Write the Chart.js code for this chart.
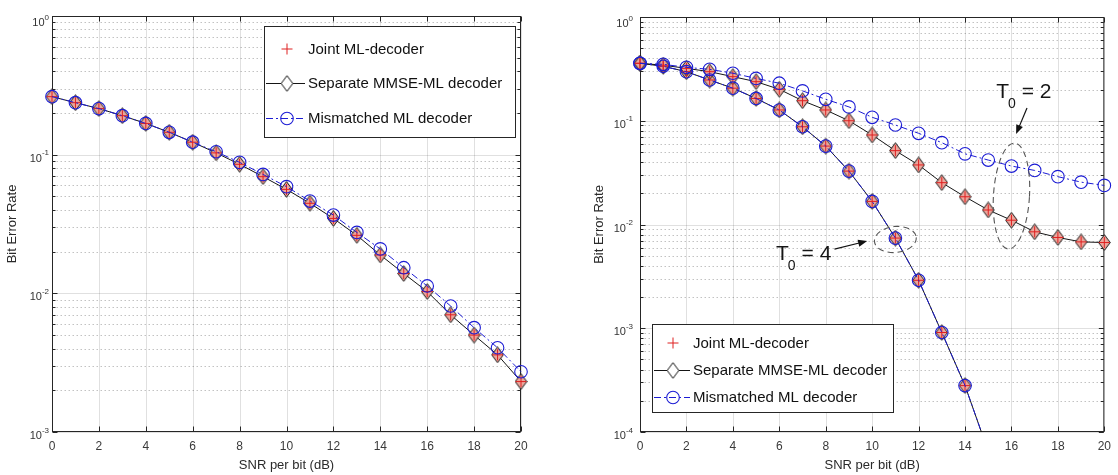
<!DOCTYPE html>
<html>
<head>
<meta charset="utf-8">
<script src="https://cdn.jsdelivr.net/npm/chart.js@4.4.1/dist/chart.umd.min.js"></script>
<style>
  html, body { margin: 0; padding: 0; background: #ffffff; }
  #wrap { position: relative; width: 1118px; height: 475px; overflow: hidden; background: #ffffff; }
  #c1 { position: absolute; left: 0; top: 0; }
  #c2 { position: absolute; left: 575px; top: 0; }
</style>
</head>
<body>
<div id="wrap">
  <canvas id="c1" width="575" height="475" style="width:575px;height:475px"></canvas>
  <canvas id="c2" width="543" height="475" style="width:543px;height:475px"></canvas>
</div>
<script>
// ---------------- data ----------------
const snrDb = [0,1,2,3,4,5,6,7,8,9,10,11,12,13,14,15,16,17,18,19,20];
const snrDbT4 = [0,1,2,3,4,5,6,7,8,9,10,11,12,13,14,15];
const xTickValues = [0,2,4,6,8,10,12,14,16,18,20];
const leftYExponents = [0,-1,-2,-3];
const rightYExponents = [0,-1,-2,-3,-4];
const seriesNames = ['Joint ML-decoder','Separate MMSE-ML decoder','Mismatched ML decoder'];
const xAxisTitle = 'SNR per bit (dB)';
const yAxisTitle = 'Bit Error Rate';

// left panel
const leftJoint      = [0.262,0.237,0.215,0.191,0.168,0.145,0.123,0.103,0.0852,0.0694,0.0562,0.0446,0.0347,0.0262,0.0189,0.0139,0.0103,0.0070,0.0050,0.0036,0.00231];
const leftSeparate   = [0.262,0.237,0.215,0.191,0.168,0.145,0.123,0.103,0.0852,0.0694,0.0562,0.0446,0.0347,0.0262,0.0189,0.0139,0.0103,0.0070,0.0050,0.0036,0.00231];
const leftMismatched = [0.262,0.237,0.215,0.191,0.168,0.145,0.123,0.105,0.0880,0.0720,0.0588,0.0463,0.0367,0.0275,0.0209,0.0153,0.0113,0.0081,0.00565,0.00405,0.00272];

// right panel, T0 = 4
const rightJointT4      = [0.358,0.335,0.297,0.247,0.206,0.164,0.127,0.0875,0.057,0.0327,0.0167,0.0074,0.0029,0.00091,0.00028,0.000065];
const rightSeparateT4   = [0.358,0.335,0.297,0.247,0.206,0.164,0.127,0.0875,0.057,0.0327,0.0167,0.0074,0.0029,0.00091,0.00028,0.000065];
const rightMismatchedT4 = [0.358,0.335,0.297,0.247,0.206,0.164,0.127,0.0875,0.057,0.0327,0.0167,0.0074,0.0029,0.00091,0.00028,0.000065];
// right panel, T0 = 2
const rightJointT2      = [0.358,0.343,0.320,0.297,0.266,0.238,0.201,0.156,0.127,0.100,0.0729,0.0515,0.0375,0.0253,0.0185,0.0138,0.0110,0.0085,0.0075,0.0068,0.0067];
const rightSeparateT2   = [0.358,0.343,0.320,0.297,0.266,0.238,0.201,0.156,0.127,0.100,0.0729,0.0515,0.0375,0.0253,0.0185,0.0138,0.0110,0.0085,0.0075,0.0068,0.0067];
const rightMismatchedT2 = [0.358,0.350,0.327,0.313,0.287,0.256,0.230,0.194,0.161,0.136,0.108,0.091,0.0757,0.0615,0.048,0.0418,0.0366,0.0332,0.0289,0.0256,0.0238];

// annotation texts
const annotT2 = { main: 'T', sub: '0', rest: '= 2' };
const annotT4 = { main: 'T', sub: '0', rest: '= 4' };

// ---------------- styling ----------------
const FONT = '"Liberation Sans", Arial, Helvetica, sans-serif';
const RED = 'rgb(222,32,32)';
const BLUE = 'rgb(28,28,212)';
const BLACK = '#151515';
const DIAMOND_FILL = 'rgb(236,166,156)';
const DASHDOT = [7,3,2,3];

function makeDiamond(fill) {
  const c = document.createElement('canvas');
  c.width = 13; c.height = 17;
  const g = c.getContext('2d');
  g.beginPath();
  g.moveTo(6.5, 0.7); g.lineTo(12.3, 8.5); g.lineTo(6.5, 16.3); g.lineTo(0.7, 8.5); g.closePath();
  g.fillStyle = fill; g.fill();
  g.strokeStyle = BLACK; g.lineWidth = 1; g.stroke();
  return c;
}
const diamondImg = makeDiamond(DIAMOND_FILL);
const diamondLegendImg = makeDiamond('#ffffff');

const CLIP = {left: 10, top: 10, right: 10, bottom: 0};
function pts(xs, ys) { return xs.map((x, i) => ({x: x, y: ys[i]})); }
function dsMism(xs, ys) {
  return { label: seriesNames[2], data: pts(xs, ys), borderColor: BLUE, borderWidth: 1, borderDash: DASHDOT,
    pointStyle: 'circle', pointRadius: 6.3, pointBorderColor: BLUE, pointBorderWidth: 1.1,
    pointBackgroundColor: 'rgba(0,0,0,0)', fill: false, tension: 0, clip: CLIP };
}
function dsJoint(xs, ys) {
  return { label: seriesNames[0], data: pts(xs, ys), showLine: false, borderColor: RED,
    pointStyle: 'cross', pointRadius: 5.5, pointBorderColor: RED, pointBorderWidth: 1, clip: CLIP };
}
function dsSep(xs, ys) {
  return { label: seriesNames[1], data: pts(xs, ys), borderColor: BLACK, borderWidth: 1,
    pointStyle: diamondImg, pointRadius: 6, fill: false, tension: 0, clip: CLIP };
}

function drawArrow(ctx, x0, y0, x1, y1) {
  ctx.save();
  ctx.strokeStyle = '#111'; ctx.fillStyle = '#111'; ctx.lineWidth = 1.2; ctx.setLineDash([]);
  const ang = Math.atan2(y1 - y0, x1 - x0);
  const hl = 9, hw = 3.6;
  ctx.beginPath(); ctx.moveTo(x0, y0); ctx.lineTo(x1 - Math.cos(ang) * hl * 0.8, y1 - Math.sin(ang) * hl * 0.8); ctx.stroke();
  ctx.beginPath();
  ctx.moveTo(x1, y1);
  ctx.lineTo(x1 - Math.cos(ang) * hl + Math.sin(ang) * hw, y1 - Math.sin(ang) * hl - Math.cos(ang) * hw);
  ctx.lineTo(x1 - Math.cos(ang) * hl - Math.sin(ang) * hw, y1 - Math.sin(ang) * hl + Math.cos(ang) * hw);
  ctx.closePath(); ctx.fill();
  ctx.restore();
}

function drawLegend(ctx, L) {
  ctx.save();
  ctx.fillStyle = '#ffffff';
  ctx.fillRect(L.x0, L.y0, L.x1 - L.x0, L.y1 - L.y0);
  ctx.strokeStyle = '#262626'; ctx.lineWidth = 1; ctx.setLineDash([]);
  ctx.strokeRect(L.x0 + 0.5, L.y0 + 0.5, L.x1 - L.x0 - 1, L.y1 - L.y0 - 1);
  // row 0: joint (marker only)
  let ry = L.rows[0];
  ctx.strokeStyle = RED; ctx.lineWidth = 1;
  ctx.beginPath(); ctx.moveTo(L.mx - 5.5, ry); ctx.lineTo(L.mx + 5.5, ry); ctx.moveTo(L.mx, ry - 5.5); ctx.lineTo(L.mx, ry + 5.5); ctx.stroke();
  // row 1: separate
  ry = Math.round(L.rows[1]) + 0.5;
  ctx.strokeStyle = BLACK; ctx.lineWidth = 1;
  ctx.beginPath(); ctx.moveTo(L.lx0, ry); ctx.lineTo(L.lx1, ry); ctx.stroke();
  ctx.drawImage(diamondLegendImg, L.mx - 6.5, ry - 8.5);
  // row 2: mismatched
  ry = Math.round(L.rows[2]) + 0.5;
  ctx.strokeStyle = BLUE; ctx.setLineDash(DASHDOT);
  ctx.beginPath(); ctx.moveTo(L.lx0, ry); ctx.lineTo(L.lx1, ry); ctx.stroke();
  ctx.setLineDash([]); ctx.lineWidth = 1.1;
  ctx.beginPath(); ctx.arc(L.mx, ry, 6.3, 0, Math.PI * 2); ctx.stroke();
  // texts
  ctx.fillStyle = '#111'; ctx.font = L.fontSize + 'px ' + FONT;
  ctx.textAlign = 'left'; ctx.textBaseline = 'middle';
  seriesNames.forEach((t, i) => ctx.fillText(t, L.tx, L.rows[i] + 1));
  ctx.restore();
}

function axesPlugin(cfg) {
  return {
    id: 'matlabAxes',
    beforeDatasetsDraw(chart) {
      const ctx = chart.ctx, a = chart.chartArea, x = chart.scales.x, y = chart.scales.y;
      const L = a.left + 0.5, R = a.right - 0.5, T = a.top + 0.5, B = a.bottom - 0.5;
      ctx.save();
      // minor dotted grid
      ctx.strokeStyle = 'rgba(0,0,0,0.24)'; ctx.lineWidth = 1; ctx.setLineDash([1.5, 2.5]);
      const minE = Math.min.apply(null, cfg.yExps);
      for (let e = minE; e < 0; e++) {
        for (let m = 2; m <= 9; m++) {
          const py = Math.round(y.getPixelForValue(m * Math.pow(10, e))) + 0.5;
          ctx.beginPath(); ctx.moveTo(L, py); ctx.lineTo(R, py); ctx.stroke();
        }
      }
      // major grid
      ctx.setLineDash([]); ctx.strokeStyle = 'rgba(0,0,0,0.12)';
      xTickValues.forEach(v => {
        const px = Math.round(x.getPixelForValue(v)) + 0.5;
        ctx.beginPath(); ctx.moveTo(px, T); ctx.lineTo(px, B); ctx.stroke();
      });
      cfg.yExps.forEach(e => {
        const py = Math.round(y.getPixelForValue(Math.pow(10, e))) + 0.5;
        ctx.beginPath(); ctx.moveTo(L, py); ctx.lineTo(R, py); ctx.stroke();
      });
      // box
      ctx.strokeStyle = '#262626'; ctx.lineWidth = 1;
      ctx.strokeRect(L, T, R - L, B - T);
      // ticks
      ctx.beginPath();
      xTickValues.forEach(v => {
        const px = Math.round(x.getPixelForValue(v)) + 0.5;
        ctx.moveTo(px, B); ctx.lineTo(px, B - 5);
        ctx.moveTo(px, T); ctx.lineTo(px, T + 5);
      });
      cfg.yExps.forEach(e => {
        const py = Math.round(y.getPixelForValue(Math.pow(10, e))) + 0.5;
        ctx.moveTo(L, py); ctx.lineTo(L + 5, py);
        ctx.moveTo(R, py); ctx.lineTo(R - 5, py);
      });
      for (let e = minE; e < 0; e++) {
        for (let m = 2; m <= 9; m++) {
          const py = Math.round(y.getPixelForValue(m * Math.pow(10, e))) + 0.5;
          ctx.moveTo(L, py); ctx.lineTo(L + 3, py);
          ctx.moveTo(R, py); ctx.lineTo(R - 3, py);
        }
      }
      ctx.stroke();
      // y tick labels 10^e
      ctx.fillStyle = '#333'; ctx.textAlign = 'left'; ctx.textBaseline = 'alphabetic';
      cfg.yExps.forEach((e, i) => {
        const py = y.getPixelForValue(Math.pow(10, e)) + (i === 0 ? 3 : 0);
        const rx = a.left - cfg.labelGap;
        const es = String(e);
        ctx.font = '8px ' + FONT;
        const ew = ctx.measureText(es).width;
        ctx.fillText(es, rx - ew, py + 0.5);
        ctx.font = '11px ' + FONT;
        const bw = ctx.measureText('10').width;
        ctx.fillText('10', rx - ew - bw, py + 7);
      });
      ctx.restore();
    },
    afterDatasetsDraw(chart) {
      const ctx = chart.ctx, x = chart.scales.x, y = chart.scales.y;
      ctx.save();
      // annotations
      (cfg.ellipses || []).forEach(el => {
        ctx.beginPath();
        ctx.ellipse(x.getPixelForValue(el.x), y.getPixelForValue(el.y), el.rx, el.ry, el.rot, 0, Math.PI * 2);
        ctx.setLineDash([6, 4]); ctx.strokeStyle = '#555'; ctx.lineWidth = 1.1; ctx.stroke();
      });
      ctx.setLineDash([]);
      (cfg.arrows || []).forEach(ar => {
        drawArrow(ctx, x.getPixelForValue(ar.x0), y.getPixelForValue(ar.y0), x.getPixelForValue(ar.x1), y.getPixelForValue(ar.y1));
      });
      (cfg.labels || []).forEach(lb => {
        const px = x.getPixelForValue(lb.x), py = y.getPixelForValue(lb.y);
        ctx.fillStyle = '#151515'; ctx.textAlign = 'left'; ctx.textBaseline = 'alphabetic';
        ctx.font = '21px ' + FONT;
        ctx.fillText(lb.text.main, px, py);
        const wT = ctx.measureText(lb.text.main).width;
        ctx.font = '14px ' + FONT;
        ctx.fillText(lb.text.sub, px + wT - 1, py + 10);
        const wS = ctx.measureText(lb.text.sub).width;
        ctx.font = '21px ' + FONT;
        ctx.fillText(lb.text.rest, px + wT + wS + 5, py);
      });
      if (cfg.legend) drawLegend(ctx, cfg.legend);
      ctx.restore();
    }
  };
}

function makeOptions(yMin, padRight, padTop, yWidth, titlePad) {
  return {
    responsive: false,
    animation: false,
    events: [],
    layout: { padding: { left: 0, top: padTop, right: padRight, bottom: 0 } },
    plugins: { legend: { display: false }, tooltip: { enabled: false } },
    scales: {
      x: {
        type: 'linear', min: 0, max: 20,
        afterBuildTicks: s => { s.ticks = xTickValues.map(v => ({ value: v })); },
        afterFit: s => { s.height = 43; },
        grid: { display: false, drawTicks: false },
        border: { display: false },
        ticks: { font: { family: FONT, size: 12 }, color: '#3a3a3a', padding: 7, maxRotation: 0, autoSkip: false },
        title: { display: true, text: xAxisTitle, font: { family: FONT, size: 13 }, color: '#2a2a2a', padding: { top: 0, bottom: 2 } }
      },
      y: {
        type: 'logarithmic', min: yMin, max: 1,
        afterFit: s => { s.width = yWidth; },
        grid: { display: false, drawTicks: false },
        border: { display: false },
        ticks: { display: false },
        title: { display: true, text: yAxisTitle, font: { family: FONT, size: 13 }, color: '#2a2a2a', padding: { top: titlePad, bottom: 0 } }
      }
    }
  };
}

// ---------------- left chart ----------------
new Chart(document.getElementById('c1'), {
  type: 'line',
  data: { datasets: [
    dsMism(snrDb, leftMismatched),
    dsJoint(snrDb, leftJoint),
    dsSep(snrDb, leftSeparate)
  ] },
  options: makeOptions(1e-3, 54, 16, 52, 5),
  plugins: [axesPlugin({
    yExps: leftYExponents, labelGap: 3,
    legend: { x0: 264, y0: 26, x1: 516, y1: 138, rows: [49, 83, 118], lx0: 266, lx1: 305, mx: 287, tx: 308, fontSize: 15 }
  })]
});

// ---------------- right chart ----------------
new Chart(document.getElementById('c2'), {
  type: 'line',
  data: { datasets: [
    dsMism(snrDb, rightMismatchedT2),
    dsMism(snrDbT4, rightMismatchedT4),
    dsJoint(snrDb, rightJointT2),
    dsJoint(snrDbT4, rightJointT4),
    dsSep(snrDb, rightSeparateT2),
    dsSep(snrDbT4, rightSeparateT4)
  ] },
  options: makeOptions(1e-4, 10, 17, 65, 17),
  plugins: [axesPlugin({
    yExps: rightYExponents, labelGap: 7,
    legend: { x0: 77, y0: 324, x1: 319, y1: 413, rows: [343, 370, 397], lx0: 79, lx1: 115, mx: 98, tx: 118, fontSize: 15 },
    ellipses: [
      { x: 16, y: 0.0188, rx: 18, ry: 53, rot: 0.06 },
      { x: 11, y: 0.00717, rx: 21, ry: 13, rot: -0.1 }
    ],
    arrows: [
      { x0: 16.67, y0: 0.1327, x1: 16.20, y1: 0.0745 },
      { x0: 8.376, y0: 0.00580, x1: 9.786, y1: 0.00693 }
    ],
    labels: [
      { x: 15.34, y: 0.1656, text: annotT2 },
      { x: 5.855, y: 0.00455, text: annotT4 }
    ]
  })]
});
</script>
</body>
</html>
